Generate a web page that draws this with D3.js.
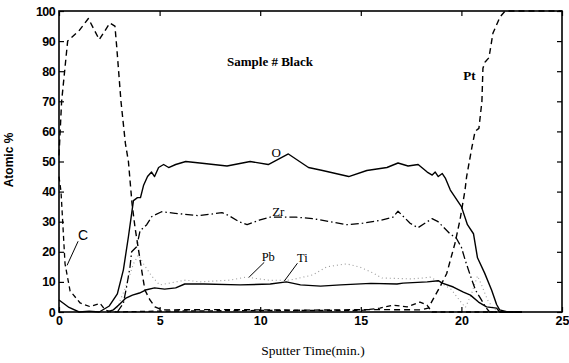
<!DOCTYPE html>
<html>
<head>
<meta charset="utf-8">
<script src="https://cdn.jsdelivr.net/npm/d3@7"></script>
<style>
  html, body { margin: 0; padding: 0; background: #fff; }
  svg { display: block; }
</style>
</head>
<body>
<svg id="chart" width="569" height="363"></svg>
<script>
// ---- data: [sputter time (min), atomic %] ----
const oxygen = [[0,4],[0.5,1.5],[1,0],[1.5,0.3],[2.0,0],[2.5,2],[2.9,6],[3.2,14],[3.45,25],[3.7,37],[3.9,38],[4.05,38],[4.2,42],[4.4,45],[4.6,46.5],[4.75,45],[4.95,48],[5.2,49],[5.45,48],[5.8,49],[6.3,50],[7.0,49.5],[8.35,48.5],[9.5,50],[10.4,49],[11.4,52.5],[12.4,48],[13.1,47],[14.4,45],[15.3,47],[16.3,48],[16.85,49.5],[17.35,48.5],[17.85,49],[18.3,46.5],[18.55,45.5],[18.7,46.5],[18.85,45],[19.05,46],[19.2,44.5],[19.45,40.5],[19.7,38],[20.0,35],[20.3,29],[20.6,26],[20.8,18],[21.15,13],[21.5,7.3],[21.75,2.5],[21.9,0.7],[22.3,0],[23,0]];

const platinum = [[0,52],[0.13,70],[0.43,90],[1.0,93.5],[1.46,97.5],[2.0,90.5],[2.53,96],[2.78,95],[2.87,88],[3.08,70],[3.3,56],[3.45,50],[3.63,36],[3.78,28],[3.93,21.6],[4.13,13],[4.27,7.3],[4.52,4],[4.77,1.7],[5.12,0.7],[8,0.8],[12,0.6],[16,0.8],[18.0,0.7],[18.35,1.3],[18.94,8.4],[19.27,12.8],[19.68,22.8],[19.93,30.6],[20.18,40.5],[20.26,45],[20.53,55],[20.68,60],[20.87,61],[21.02,70],[21.07,81],[21.17,83],[21.37,84.5],[21.57,92.7],[21.92,98],[22.17,100],[25,100]];

const zirconium = [[2.9,0],[3.2,2.9],[3.36,8.4],[3.53,15],[3.61,20],[3.86,21.7],[4.03,27],[4.36,29],[4.61,31.7],[5.1,33.3],[5.77,32.8],[6.95,32],[8.1,33],[8.45,32],[8.95,30],[9.35,29],[9.95,30.5],[10.5,31.5],[11.8,31.5],[12.6,31],[13.5,30],[14.3,29],[15.1,29.5],[16.0,30.5],[16.6,31.5],[16.85,33.5],[17.45,29.5],[17.84,28],[18.54,31],[18.84,30],[19.43,26],[19.75,24.5],[20.0,21.5],[20.2,17],[20.45,12],[20.7,7.3],[20.95,4.5],[21.2,1.7],[21.4,0],[23,0]];

const titanium = [[2.4,0],[2.7,0.7],[3.0,2.5],[3.3,4.5],[3.65,5.6],[4.0,6.3],[4.3,7.3],[4.75,8],[5.25,7.6],[5.8,8],[6.25,9.3],[7.2,9.3],[9.0,9],[10.5,9.3],[11.3,10],[12.0,9],[13.0,8.6],[14.0,9],[15.5,9.5],[16.8,9.3],[17.1,9.6],[18.3,10],[18.85,10.4],[19.05,9.6],[19.6,8.3],[20.1,6.6],[20.45,5.6],[20.85,3.3],[21.25,1.7],[21.75,1.3],[21.9,0],[23,0]];

const lead = [[2.8,0],[3.3,8],[3.7,16],[3.95,19],[4.2,16],[4.6,12],[5.0,9],[5.5,9.6],[6.3,10.6],[7.0,10],[8.5,10.6],[9.3,11.6],[10.5,10.5],[11.5,10.6],[12.6,12.3],[13.3,15],[14.3,16],[15.0,14.8],[15.6,13],[16.05,11.3],[17.5,11],[18.1,11.3],[18.44,11.6],[18.9,10],[19.5,7.5],[19.95,3.5],[20.2,1.5],[20.5,6],[20.8,12],[21.0,9],[21.3,4],[21.6,1],[22,0],[23,0]];

const carbon = [[0,45],[0.1,40],[0.3,16],[0.55,7],[1.05,3],[1.54,1.8],[2.04,2.9],[2.29,0.7],[2.6,0],[5,0.3],[10,0.5],[15,0.5],[15.95,1.3],[16.6,2.3],[17.3,1.7],[17.94,3.3],[18.29,2.3],[18.54,0],[23,0]];

const xTicks = [0, 5, 10, 15, 20, 25];
const yTicks = [0, 10, 20, 30, 40, 50, 60, 70, 80, 90, 100];

const seriesList = [
  { name: "Pb", data: lead,      stroke: "#9a9a9a", width: 1.1, dash: "1,3" },
  { name: "C",  data: carbon,    stroke: "#000", width: 1.3, dash: "5,3.5" },
  { name: "Pt", data: platinum,  stroke: "#000", width: 1.4, dash: "6,4" },
  { name: "Zr", data: zirconium, stroke: "#000", width: 1.3, dash: "8,3,1.5,3" },
  { name: "Ti", data: titanium,  stroke: "#000", width: 1.4, dash: null },
  { name: "O",  data: oxygen,    stroke: "#000", width: 1.4, dash: null }
];

// annotations in data coordinates
const labels = [
  { text: "O",  t: 10.8, v: 52.5, size: 13, font: "Liberation Serif" },
  { text: "Zr", t: 10.9, v: 33,   size: 13, font: "Liberation Serif" },
  { text: "Pb", t: 10.4, v: 18,   size: 12.5, font: "Liberation Serif" },
  { text: "Ti", t: 12.1, v: 17.7, size: 12.5, font: "Liberation Serif" },
  { text: "Pt", t: 20.4, v: 78,   size: 13, font: "Liberation Serif", weight: "bold" },
  { text: "C",  t: 1.2,  v: 25,   size: 14, font: "Liberation Sans" }
];
const leaders = [
  { t1: 10.2, v1: 16.5, t2: 9.45, v2: 11.6 },
  { t1: 11.85, v1: 16.2, t2: 11.2, v2: 10.3 },
  { t1: 0.95, v1: 23.5, t2: 0.4,  v2: 15.5 }
];

// ---- chart ----
const svg = d3.select("#chart");
const xScale = d3.scaleLinear().domain([0, 25]).range([59, 562]);
const yScale = d3.scaleLinear().domain([0, 100]).range([312, 11]);

const line = d3.line().x(d => xScale(d[0])).y(d => yScale(d[1]));

const plot = svg.append("g");
seriesList.forEach(s => {
  plot.append("path")
    .attr("d", line(s.data))
    .attr("fill", "none")
    .attr("stroke", s.stroke)
    .attr("stroke-width", s.width)
    .attr("stroke-dasharray", s.dash)
    .attr("stroke-linejoin", "round");
});

// axes
const axesG = svg.append("g").attr("font-family", "Liberation Sans");
const axLeft = axesG.append("g").attr("transform", `translate(${xScale(0)},0)`)
  .call(d3.axisLeft(yScale).tickValues(yTicks).tickSizeInner(-5).tickSizeOuter(0).tickPadding(4));
const axBottom = axesG.append("g").attr("transform", `translate(0,${yScale(0)})`)
  .call(d3.axisBottom(xScale).tickValues(xTicks).tickSizeInner(-5).tickSizeOuter(0).tickPadding(4));
const axRight = axesG.append("g").attr("transform", `translate(${xScale(25)},0)`)
  .call(d3.axisRight(yScale).tickValues(yTicks).tickSizeInner(-5).tickSizeOuter(0).tickFormat(""));
const axTop = axesG.append("g").attr("transform", `translate(0,${yScale(100)})`)
  .call(d3.axisTop(xScale).tickValues(xTicks).tickSizeInner(-5).tickSizeOuter(0).tickFormat(""));
[axLeft, axBottom, axRight, axTop].forEach(g => {
  g.select(".domain").remove();
  g.selectAll("line").attr("stroke", "#000").attr("stroke-width", 1.2);
  g.selectAll("text").attr("fill", "#000").attr("font-size", 12.5).attr("font-weight", "bold");
});
axLeft.selectAll("text").attr("letter-spacing", "-0.6");

svg.append("rect")
  .attr("x", xScale(0)).attr("y", yScale(100))
  .attr("width", xScale(25) - xScale(0)).attr("height", yScale(0) - yScale(100))
  .attr("fill", "none").attr("stroke", "#000").attr("stroke-width", 1.6);

// titles
svg.append("text").attr("x", 270).attr("y", 66).attr("text-anchor", "middle")
  .attr("font-family", "Liberation Serif").attr("font-size", 13).attr("font-weight", "bold")
  .text("Sample # Black");
svg.append("text").attr("x", 313).attr("y", 355).attr("text-anchor", "middle")
  .attr("font-family", "Liberation Serif").attr("font-size", 13.5)
  .text("Sputter Time(min.)");
svg.append("text").attr("transform", "translate(13,160) rotate(-90)").attr("text-anchor", "middle")
  .attr("font-family", "Liberation Sans").attr("font-size", 12).attr("font-weight", "bold")
  .text("Atomic %");

// series labels
labels.forEach(l => {
  svg.append("text").attr("x", xScale(l.t)).attr("y", yScale(l.v)).attr("text-anchor", "middle")
    .attr("dominant-baseline", "middle")
    .attr("font-family", l.font).attr("font-size", l.size).attr("font-weight", l.weight || "normal")
    .text(l.text);
});
leaders.forEach(d => {
  svg.append("line").attr("x1", xScale(d.t1)).attr("y1", yScale(d.v1)).attr("x2", xScale(d.t2)).attr("y2", yScale(d.v2))
    .attr("stroke", "#000").attr("stroke-width", 1);
});
</script>
</body>
</html>
